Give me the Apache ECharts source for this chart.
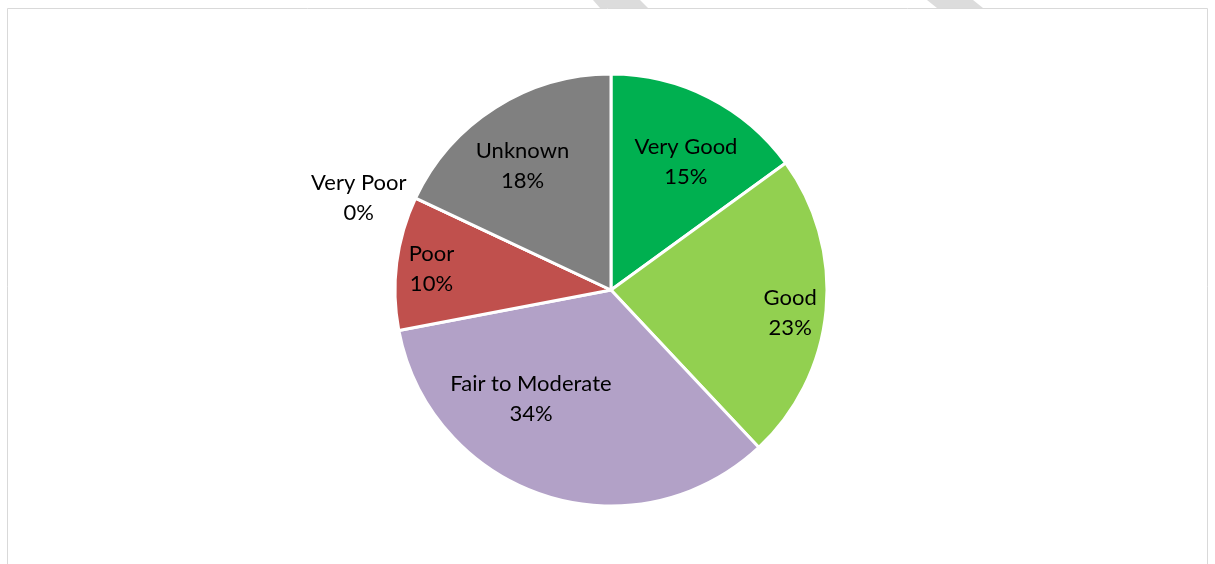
<!DOCTYPE html>
<html>
<head>
<meta charset="utf-8">
<title>Condition breakdown</title>
<script src="https://cdn.jsdelivr.net/npm/echarts@6/dist/echarts.min.js"></script>
<style>
  html, body { margin: 0; padding: 0; background: #ffffff; }
  #chart { width: 1215px; height: 564px; }
</style>
</head>
<body>
<div id="chart"></div>
<script>
// Condition categories, in drawing order (clockwise from 12 o'clock)
const categories = ['Very Good', 'Good', 'Fair to Moderate', 'Poor', 'Very Poor', 'Unknown'];
// Share of each category, in percent
const shares = [15, 23, 34, 10, 0, 18];
// Slice colours
const sliceColors = ['#00B050', '#92D050', '#B2A1C7', '#C0504D', '#C0504D', '#808080'];

const FONT = 'Lato, "Open Sans", sans-serif';
const CENTER = [611, 290];
const RADIUS = 216;

const pieData = categories.map((name, i) => ({
  name: name,
  value: shares[i],
  itemStyle: { color: sliceColors[i] }
}));

// Label rings: each ring places its labels at the midpoint of its band.
const labelRings = [
  { names: ['Very Good', 'Unknown'], band: [140, 162] },
  { names: ['Good', 'Poor'], band: [170, 190] },
  { names: ['Fair to Moderate'], band: [123, 143] },
  { names: ['Very Poor'], band: [258, 278] }
];
// Small nudges applied to individual labels after the ring layout
const labelNudge = {
  'Very Good': [5, 9],
  'Good': [-3, 6],
  'Unknown': [-6, 6],
  'Poor': [2, 2],
  'Fair to Moderate': [-38, -20],
  'Very Poor': [-7, 23]
};

const labelSeries = labelRings.map((ring) => ({
  type: 'pie',
  center: CENTER,
  radius: ring.band,
  startAngle: 90,
  clockwise: true,
  silent: true,
  animation: false,
  avoidLabelOverlap: false,
  itemStyle: { color: 'rgba(0,0,0,0)', borderWidth: 0 },
  emphasis: { disabled: true },
  labelLine: { show: false },
  label: { show: false },
  labelLayout: function (params) {
    const n = labelNudge[categories[params.dataIndex]];
    return n ? { dx: n[0], dy: n[1] } : {};
  },
  data: categories.map((name, i) => ({
    name: name,
    value: shares[i],
    label: {
      show: ring.names.indexOf(name) >= 0,
      position: 'inside',
      formatter: '{b}\n{c}%',
      color: '#000000',
      fontFamily: FONT,
      fontSize: 22,
      lineHeight: 30,
      align: 'center'
    }
  }))
}));

const chart = echarts.init(document.getElementById('chart'), null, { renderer: 'canvas' });

chart.setOption({
  backgroundColor: '#ffffff',
  animation: false,
  graphic: [
    // chart-area frame
    {
      type: 'rect',
      shape: { x: 7.5, y: 8.5, width: 1200, height: 600 },
      style: { fill: 'none', stroke: '#D9D9D9', lineWidth: 1 },
      silent: true
    },
    // faint diagonal bands above the frame
    {
      type: 'polygon',
      shape: { points: [[593, 0], [640, 0], [648, 8], [600, 8]] },
      style: { fill: '#DCDCDC' },
      silent: true
    },
    {
      type: 'polygon',
      shape: { points: [[927, 0], [973, 0], [983, 8], [937, 8]] },
      style: { fill: '#DCDCDC' },
      silent: true
    }
  ],
  series: [
    {
      type: 'pie',
      center: CENTER,
      radius: [0, RADIUS],
      startAngle: 90,
      clockwise: true,
      silent: true,
      animation: false,
      itemStyle: { borderColor: '#ffffff', borderWidth: 3 },
      emphasis: { disabled: true },
      label: { show: false },
      labelLine: { show: false },
      data: pieData
    }
  ].concat(labelSeries)
});
</script>
</body>
</html>
